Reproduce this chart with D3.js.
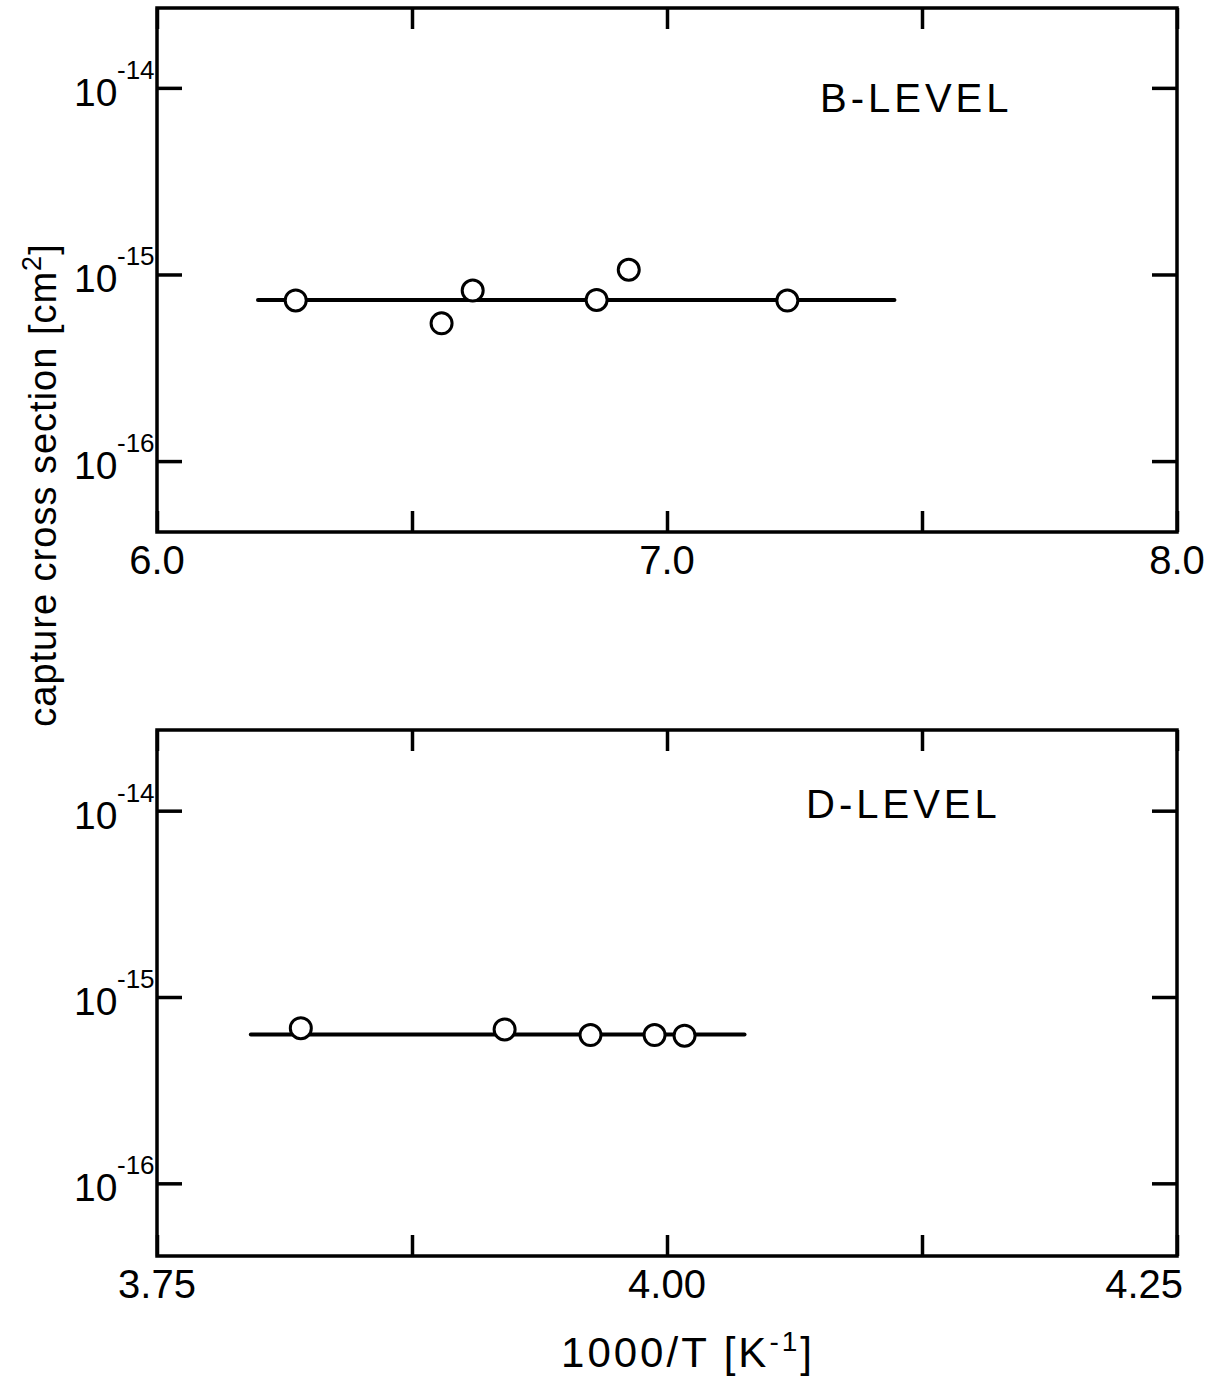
<!DOCTYPE html>
<html>
<head>
<meta charset="utf-8">
<script src="https://cdn.jsdelivr.net/npm/d3@7"></script>
<style>
  body { margin: 0; background: #fff; }
  svg text { font-family: "Liberation Sans", "DejaVu Sans", sans-serif; fill: #000; }
</style>
</head>
<body>
<svg id="chart" width="1214" height="1380"></svg>
<script>
// B-level data
const bX = [6.272, 6.558, 6.619, 6.862, 6.925, 7.236];
const bY = [7.26e-16, 5.47e-16, 8.2e-16, 7.3e-16, 1.06e-15, 7.25e-16];
const bFitX = [6.198, 7.446];
const bFitY = [7.3e-16, 7.3e-16];

// D-level data
const dX = [3.8205, 3.9204, 3.9625, 3.9939, 4.0086];
const dY = [6.8e-16, 6.7e-16, 6.25e-16, 6.25e-16, 6.2e-16];
const dFitX = [3.796, 4.038];
const dFitY = [6.3e-16, 6.3e-16];

// axes
const bXTicks = [6.0, 6.5, 7.0, 7.5, 8.0];
const bXLabels = ['6.0', '', '7.0', '', '8.0'];
const dXTicks = [3.75, 3.875, 4.0, 4.125, 4.25];
const dXLabels = ['3.75', '', '4.00', '', '4.25'];
const yTicks = [1e-14, 1e-15, 1e-16];
const yExps = ['-14', '-15', '-16'];

const svg = d3.select('#chart');

const panel = (opt) => {
    const {top, bottom, left, right, xDomain, yDomain, xTicks, xLabels, xs, ys, fitX, fitY, label, labelX, labelY} = opt;

    const x = d3.scaleLinear().domain(xDomain).range([left, right]);
    const y = d3.scaleLog().domain(yDomain).range([bottom, top]);

    const g = svg.append('g');

    // frame
    g.append('rect')
        .attr('x', left).attr('y', top)
        .attr('width', right - left).attr('height', bottom - top)
        .attr('fill', 'none').attr('stroke', '#000').attr('stroke-width', 3.5);

    // ticks via axes, pointing inward
    const axB = g.append('g')
        .attr('transform', `translate(0,${bottom})`)
        .call(d3.axisBottom(x).tickValues(xTicks).tickSize(-21).tickFormat(''));
    const axT = g.append('g')
        .attr('transform', `translate(0,${top})`)
        .call(d3.axisTop(x).tickValues(xTicks).tickSize(-21).tickFormat(''));
    const axL = g.append('g')
        .attr('transform', `translate(${left},0)`)
        .call(d3.axisLeft(y).tickValues(yTicks).tickSize(-25).tickFormat(''));
    const axR = g.append('g')
        .attr('transform', `translate(${right},0)`)
        .call(d3.axisRight(y).tickValues(yTicks).tickSize(-25).tickFormat(''));

    [axB, axT, axL, axR].forEach(a => {
        a.select('.domain').remove();
        a.selectAll('.tick line').attr('stroke', '#000').attr('stroke-width', 3.5);
    });

    // x tick labels (last one sits left of the corner)
    const n = xTicks.length - 1;
    g.selectAll('.xlab')
        .data(xTicks.map((v, i) => ({v, i, t: xLabels[i]})).filter(d => d.t))
        .enter().append('text')
        .attr('x', d => x(d.v) + (d.i === n && d.t.length > 3 ? 6 : 0))
        .attr('y', bottom + 42)
        .attr('text-anchor', d => (d.i === n && d.t.length > 3) ? 'end' : 'middle')
        .attr('font-size', 40)
        .text(d => d.t);

    // y tick labels 10^n
    yTicks.forEach((v, i) => {
        g.append('text')
            .attr('x', left - 83)
            .attr('y', y(v) + 18)
            .attr('font-size', 39)
            .text('10');
        g.append('text')
            .attr('x', left - 40)
            .attr('y', y(v) - 9)
            .attr('font-size', 26)
            .text(yExps[i]);
    });

    // fit line
    const line = d3.line().x(d => x(d[0])).y(d => y(d[1]));
    g.append('path')
        .datum(fitX.map((v, i) => [v, fitY[i]]))
        .attr('d', line)
        .attr('fill', 'none')
        .attr('stroke', '#000')
        .attr('stroke-width', 4)
        .attr('stroke-linecap', 'round');

    // points
    g.selectAll('circle')
        .data(xs.map((v, i) => [v, ys[i]]))
        .enter().append('circle')
        .attr('cx', d => x(d[0]))
        .attr('cy', d => y(d[1]))
        .attr('r', 10.5)
        .attr('fill', '#fff')
        .attr('stroke', '#000')
        .attr('stroke-width', 3);

    g.append('text')
        .attr('x', labelX)
        .attr('y', labelY)
        .attr('font-size', 40)
        .attr('letter-spacing', 4)
        .text(label);
};

panel({
    top: 8, bottom: 532, left: 157, right: 1177,
    xDomain: [6.0, 8.0], yDomain: [Math.pow(10, -16.38), Math.pow(10, -13.572)],
    xTicks: bXTicks, xLabels: bXLabels,
    xs: bX, ys: bY, fitX: bFitX, fitY: bFitY,
    label: 'B-LEVEL', labelX: 820, labelY: 112
});

panel({
    top: 730, bottom: 1256, left: 157, right: 1177,
    xDomain: [3.75, 4.25], yDomain: [Math.pow(10, -16.39), Math.pow(10, -13.567)],
    xTicks: dXTicks, xLabels: dXLabels,
    xs: dX, ys: dY, fitX: dFitX, fitY: dFitY,
    label: 'D-LEVEL', labelX: 806, labelY: 818
});

// x axis title
const xt = svg.append('text')
    .attr('x', 688)
    .attr('y', 1367)
    .attr('text-anchor', 'middle')
    .attr('font-size', 42)
    .attr('letter-spacing', 3);
xt.append('tspan').text('1000/T  [K');
xt.append('tspan').attr('dy', -16).attr('font-size', 28).text('-1');
xt.append('tspan').attr('dy', 16).text(']');

// y axis title
const yt = svg.append('text')
    .attr('transform', 'translate(56,485) rotate(-90)')
    .attr('text-anchor', 'middle')
    .attr('font-size', 38)
    .attr('letter-spacing', 1);
yt.append('tspan').text('capture  cross section [cm');
yt.append('tspan').attr('dy', -15).attr('font-size', 27).text('2');
yt.append('tspan').attr('dy', 15).text(']');
</script>
</body>
</html>
